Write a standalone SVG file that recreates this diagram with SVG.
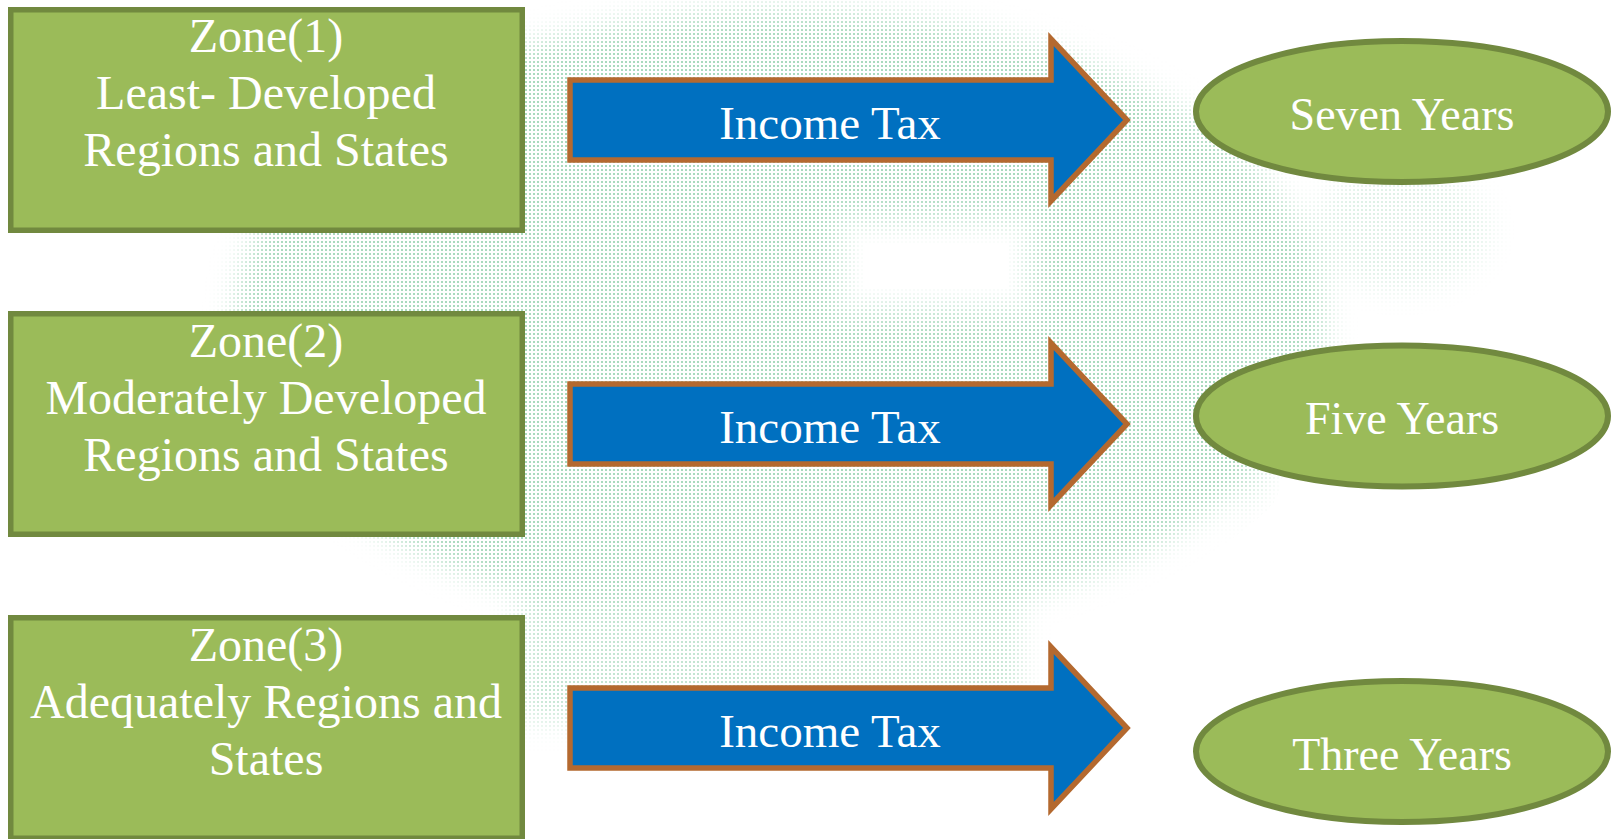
<svg xmlns="http://www.w3.org/2000/svg" width="1612" height="839" viewBox="0 0 1612 839">
  <defs>
    <style>
      .zone { fill: #9BBB59; stroke: #71893F; stroke-width: 5.5; }
      .period { fill: #9BBB59; stroke: #71893F; stroke-width: 6; }
      .tax { fill: #0070C0; stroke: #B4692F; stroke-width: 5.5; stroke-linejoin: miter; }
      .label { font-family: "Liberation Serif", "Times New Roman", serif; fill: #FFFFFF; text-anchor: middle; }
      .zone-text { font-size: 48px; }
      .tax-text { font-size: 47px; }
      .period-text { font-size: 46px; }
    </style>
    <!-- fine dot screen used for the faint background emblem -->
    <pattern id="dots" width="4" height="4" patternUnits="userSpaceOnUse">
      <rect x="1" y="1" width="2" height="2" fill="#6FC193" fill-opacity="0.6"/>
    </pattern>
    <filter id="soft" x="-20%" y="-20%" width="140%" height="140%">
      <feGaussianBlur stdDeviation="14"/>
    </filter>
    <mask id="emblem" maskUnits="userSpaceOnUse" x="0" y="0" width="1612" height="839">
      <g filter="url(#soft)">
        <ellipse cx="780" cy="320" rx="545" ry="310" fill="#FFFFFF"/>
        <rect x="520" y="600" width="500" height="120" fill="#B0B0B0"/>
        <ellipse cx="1400" cy="230" rx="90" ry="60" fill="#606060"/>
        <rect x="830" y="210" width="210" height="110" fill="#000000"/>
        <rect x="1250" y="360" width="120" height="300" fill="#000000"/>
      </g>
    </mask>
    <path id="arrow-shape" d="M570,-40 H1051 V-81 L1127,0 L1051,81 V40 H570 Z"/>
  </defs>

  <rect width="1612" height="839" fill="#FFFFFF"/>

  <!-- faint background emblem -->
  <rect width="1612" height="839" fill="url(#dots)" mask="url(#emblem)"/>

  <!-- block arrows linking each zone to its period -->
  <g id="connectors">
    <g id="arrow-1" transform="translate(0,120)">
      <use href="#arrow-shape" class="tax"/>
      <text class="label tax-text" x="830" y="19">Income Tax</text>
    </g>
    <g id="arrow-2" transform="translate(0,424)">
      <use href="#arrow-shape" class="tax"/>
      <text class="label tax-text" x="830" y="19">Income Tax</text>
    </g>
    <g id="arrow-3" transform="translate(0,728)">
      <use href="#arrow-shape" class="tax"/>
      <text class="label tax-text" x="830" y="19">Income Tax</text>
    </g>
  </g>

  <!-- zones -->
  <g id="zone-1">
    <rect class="zone" x="10.75" y="9.75" width="511.5" height="220.5"/>
    <text class="label zone-text" x="266" y="52">Zone(1)</text>
    <text class="label zone-text" x="266" y="109">Least- Developed</text>
    <text class="label zone-text" x="266" y="166">Regions and States</text>
  </g>
  <g id="zone-2">
    <rect class="zone" x="10.75" y="313.75" width="511.5" height="220.5"/>
    <text class="label zone-text" x="266" y="357">Zone(2)</text>
    <text class="label zone-text" x="266" y="414">Moderately Developed</text>
    <text class="label zone-text" x="266" y="471">Regions and States</text>
  </g>
  <g id="zone-3">
    <rect class="zone" x="10.75" y="617.75" width="511.5" height="220.5"/>
    <text class="label zone-text" x="266" y="661">Zone(3)</text>
    <text class="label zone-text" x="266" y="718">Adequately Regions and</text>
    <text class="label zone-text" x="266" y="775">States</text>
  </g>

  <!-- exemption periods -->
  <g id="period-7">
    <ellipse class="period" cx="1402" cy="111.5" rx="206" ry="70.5"/>
    <text class="label period-text" x="1402" y="130">Seven Years</text>
  </g>
  <g id="period-5">
    <ellipse class="period" cx="1402" cy="416" rx="206" ry="70.5"/>
    <text class="label period-text" x="1402" y="434">Five Years</text>
  </g>
  <g id="period-3">
    <ellipse class="period" cx="1402" cy="751.5" rx="206" ry="70.5"/>
    <text class="label period-text" x="1402" y="770">Three Years</text>
  </g>
</svg>
